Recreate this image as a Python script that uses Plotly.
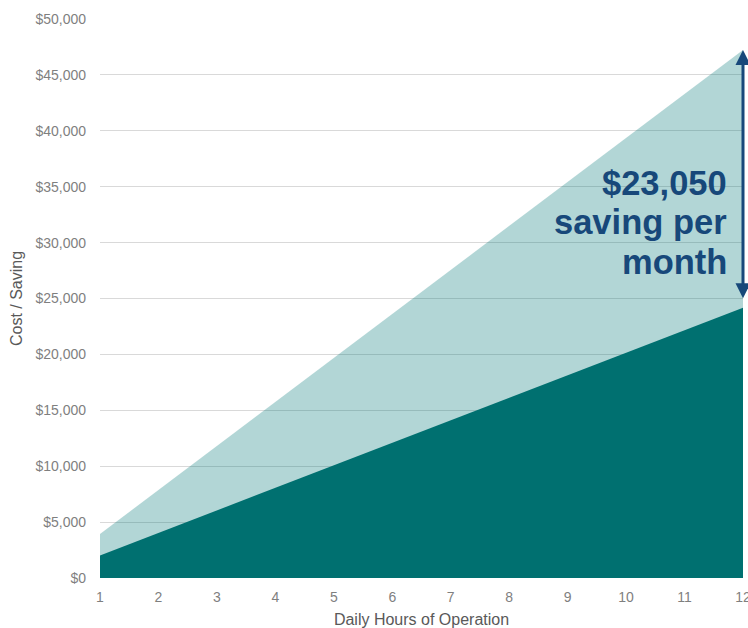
import plotly.graph_objects as go

# Daily hours of operation and monthly cost figures
hours = [1, 2, 3, 4, 5, 6, 7, 8, 9, 10, 11, 12]
new_cost = [2015, 4030, 6045, 8060, 10075, 12090, 14105, 16120, 18135, 20150, 22165, 24180]
old_cost = [3936, 7872, 11808, 15744, 19680, 23616, 27552, 31488, 35424, 39360, 43296, 47232]
saving_label = ["$23,050", "saving per", "month"]
y_ticks = [0, 5000, 10000, 15000, 20000, 25000, 30000, 35000, 40000, 45000, 50000]

font = "Liberation Sans, Arial, sans-serif"
navy = "#17487a"

fig = go.Figure()
fig.add_trace(go.Scatter(
    x=hours, y=old_cost, mode="lines", line=dict(width=0),
    fill="tozeroy", fillcolor="rgba(0,118,118,0.30)", hoverinfo="skip",
))
fig.add_trace(go.Scatter(
    x=hours, y=new_cost, mode="lines", line=dict(width=0),
    fill="tozeroy", fillcolor="#007070", hoverinfo="skip",
))

# double-headed arrow showing the gap at 12 hours
fig.add_annotation(
    x=12, y=old_cost[-1], ax=12, ay=new_cost[-1],
    xref="x", yref="y", axref="x", ayref="y",
    text=" ", showarrow=True, arrowhead=2, startarrowhead=2,
    arrowside="end+start", arrowsize=1, arrowwidth=3, arrowcolor=navy,
    standoff=0, startstandoff=0,
)

label_y = [35300, 31800, 28250]
for txt, yy in zip(saving_label, label_y):
    fig.add_annotation(
        x=11.76, y=yy, xref="x", yref="y", text="<b>" + txt + "</b>",
        showarrow=False, xanchor="right", yanchor="middle",
        font=dict(family=font, size=34.5, color=navy),
    )

fig.update_layout(
    width=748, height=628,
    margin=dict(l=100, r=5, t=19, b=50),
    plot_bgcolor="white", paper_bgcolor="white",
    showlegend=False,
    font=dict(family=font, size=14, color="#7f7f7f"),
)
fig.update_xaxes(
    range=[1, 12], tickvals=hours, showgrid=False, zeroline=False,
    ticks="", showline=False, automargin=False, ticklabeloverflow="allow",
    ticklabelstandoff=9,
    title=dict(text="Daily Hours of Operation", standoff=13,
               font=dict(size=16, color="#595959")),
    tickfont=dict(size=14, color="#7f7f7f"),
)
fig.update_yaxes(
    range=[0, 50000], tickvals=y_ticks,
    ticktext=["$" + format(v, ",") for v in y_ticks],
    showgrid=True, gridcolor="#d9d9d9", gridwidth=1, zeroline=False,
    ticks="", ticklabelstandoff=13, automargin=False,
    title=dict(text="Cost / Saving", standoff=8,
               font=dict(size=16, color="#595959")),
    tickfont=dict(size=14, color="#7f7f7f"),
)

# drop the browser's default 8px body margin so the figure fills the window
fig.write_html("out.html", config={"displayModeBar": False},
               post_script="document.body.style.margin='0';")
